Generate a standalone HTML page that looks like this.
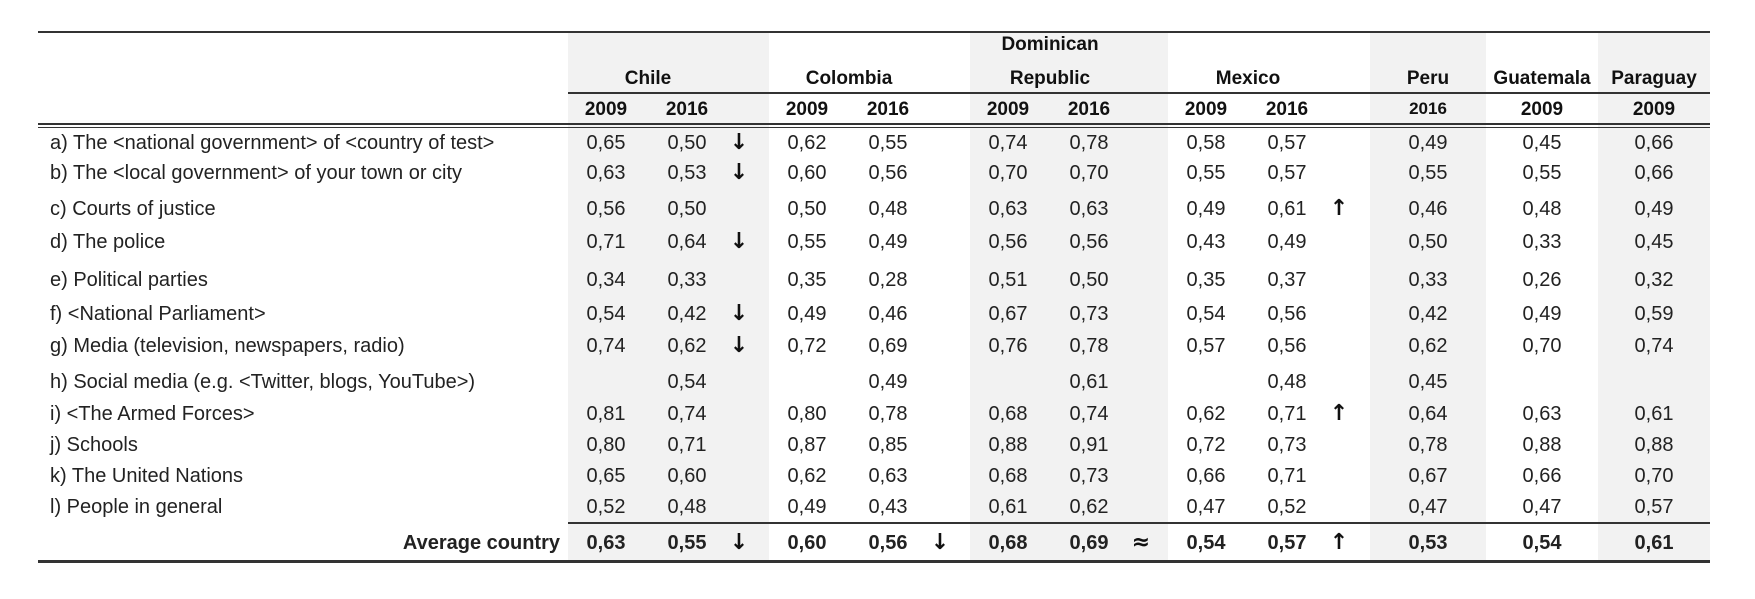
<!DOCTYPE html>
<html><head><meta charset="utf-8">
<style>
body{margin:0;background:#fff;width:1755px;height:599px;overflow:hidden;position:relative;font-family:"Liberation Sans",Arial,sans-serif;color:#222}
.a{position:absolute;white-space:nowrap}
.c{transform:translateX(-50%)}
.shade{position:absolute;background:#f2f2f2;top:32px;height:529px}
.line{position:absolute;background:#333}
.h{font-weight:bold;font-size:19px;color:#111}
.n{font-size:20px;line-height:24px;margin-top:-12px}
.lbl{font-size:20px;line-height:24px;margin-top:-12px;left:50px}
.arr{font-family:"DejaVu Sans",sans-serif;font-size:22px;font-weight:bold;line-height:24px;margin-top:-12px;color:#111}
</style></head><body>
<div id="root"></div>
<script>
const labels=["a) The <national government> of <country of test>","b) The <local government> of your town or city","c) Courts of justice","d) The police","e) Political parties","f) <National Parliament>","g) Media (television, newspapers, radio)","h) Social media (e.g. <Twitter, blogs, YouTube>)","i) <The Armed Forces>","j) Schools","k) The United Nations","l) People in general"];
const chile09=["0,65","0,63","0,56","0,71","0,34","0,54","0,74","","0,81","0,80","0,65","0,52"];
const chile16=["0,50","0,53","0,50","0,64","0,33","0,42","0,62","0,54","0,74","0,71","0,60","0,48"];
const chileArr=["↓","↓","","↓","","↓","↓","","","","",""];
const col09=["0,62","0,60","0,50","0,55","0,35","0,49","0,72","","0,80","0,87","0,62","0,49"];
const col16=["0,55","0,56","0,48","0,49","0,28","0,46","0,69","0,49","0,78","0,85","0,63","0,43"];
const dom09=["0,74","0,70","0,63","0,56","0,51","0,67","0,76","","0,68","0,88","0,68","0,61"];
const dom16=["0,78","0,70","0,63","0,56","0,50","0,73","0,78","0,61","0,74","0,91","0,73","0,62"];
const mex09=["0,58","0,55","0,49","0,43","0,35","0,54","0,57","","0,62","0,72","0,66","0,47"];
const mex16=["0,57","0,57","0,61","0,49","0,37","0,56","0,56","0,48","0,71","0,73","0,71","0,52"];
const mexArr=["","","↑","","","","","","↑","","",""];
const peru16=["0,49","0,55","0,46","0,50","0,33","0,42","0,62","0,45","0,64","0,78","0,67","0,47"];
const guat09=["0,45","0,55","0,48","0,33","0,26","0,49","0,70","","0,63","0,88","0,66","0,47"];
const para09=["0,66","0,66","0,49","0,45","0,32","0,59","0,74","","0,61","0,88","0,70","0,57"];
const avgVals=["0,63","0,55","↓","0,60","0,56","↓","0,68","0,69","≈","0,54","0,57","↑","0,53","0,54","0,61"];

const root=document.getElementById('root');
const rowY=[143,173,209,242,280,314,346,382,414,445,476,507];
const avgY=543;
function add(cls,txt,x,y,name,center){
  const d=document.createElement('div');
  d.className='a '+cls+(center?' c':'');
  d.textContent=txt;
  d.style.left=x+'px';d.style.top=y+'px';
  
  
  root.appendChild(d);return d;
}
function box(cls,x,y,w,h,name){
  const d=document.createElement('div');
  d.className=cls;d.style.left=x+'px';d.style.top=y+'px';d.style.width=w+'px';if(h!=null)d.style.height=h+'px';
  
  
  root.appendChild(d);return d;
}
box('shade',568,32,201,null,'chile-shade');
box('shade',970,32,198,null,'dominican-shade');
box('shade',1370,32,116,null,'peru-shade');
box('shade',1598,32,112,null,'paraguay-shade');
box('line',38,31,1672,2,'top-rule');
box('line',568,92,1142,2,'country-rule');
box('line',38,123,1672,2,'double-rule-top');
box('line',38,127,1672,1,'double-rule-bottom');
box('line',568,522,1142,2,'average-rule');
box('line',38,560,1672,3,'bottom-rule');
const blocks=[568,769,970,1168];
add('h','Chile',blocks[0]+80,68,'header-chile',true);
add('h','Colombia',blocks[1]+80,68,'header-colombia',true);
add('h','Dominican',blocks[2]+80,34,'header-dominican',true);
add('h','Republic',blocks[2]+80,68,'header-dominican-2',true);
add('h','Mexico',blocks[3]+80,68,'header-mexico',true);
add('h','Peru',1428,68,'header-peru',true);
add('h','Guatemala',1542,68,'header-guatemala',true);
add('h','Paraguay',1654,68,'header-paraguay',true);
blocks.forEach((b,i)=>{add('h','2009',b+38,99,'year-2009',true);add('h','2016',b+119,99,'year-2016',true);});
add('h','2016',1428,99,'year-peru',true).style.fontSize='17px';
add('h','2009',1542,99,'year-guatemala',true);
add('h','2009',1654,99,'year-paraguay',true);
const cols=[[chile09,blocks[0]+38],[chile16,blocks[0]+119],[col09,blocks[1]+38],[col16,blocks[1]+119],[dom09,blocks[2]+38],[dom16,blocks[2]+119],[mex09,blocks[3]+38],[mex16,blocks[3]+119],[peru16,1428],[guat09,1542],[para09,1654]];
labels.forEach((l,i)=>{
  add('lbl',l,50,rowY[i],'row-label');
  cols.forEach(([arr,x])=>{if(arr[i])add('n',arr[i],x,rowY[i],'cell-value',true);});
  if(chileArr[i])add('arr',chileArr[i],blocks[0]+171,rowY[i],'trend-arrow',true);
  if(mexArr[i])add('arr',mexArr[i],blocks[3]+171,rowY[i],'trend-arrow',true);
});
const avgL=add('lbl','Average country',0,avgY,'average-label');
avgL.style.left='auto';avgL.style.right=(1755-560)+'px';avgL.style.fontWeight='bold';
const avgX=[];
blocks.forEach(b=>{avgX.push(b+38,b+119,b+171);});
avgX.push(1428,1542,1654);
avgVals.forEach((v,i)=>{
  const isArr=(i<12&&i%3==2);
  const d=add(isArr?'arr':'n',v,avgX[i],avgY,isArr?'average-trend':'average-value',true);
  if(!isArr)d.style.fontWeight='bold';
});
</script>
</body></html>
